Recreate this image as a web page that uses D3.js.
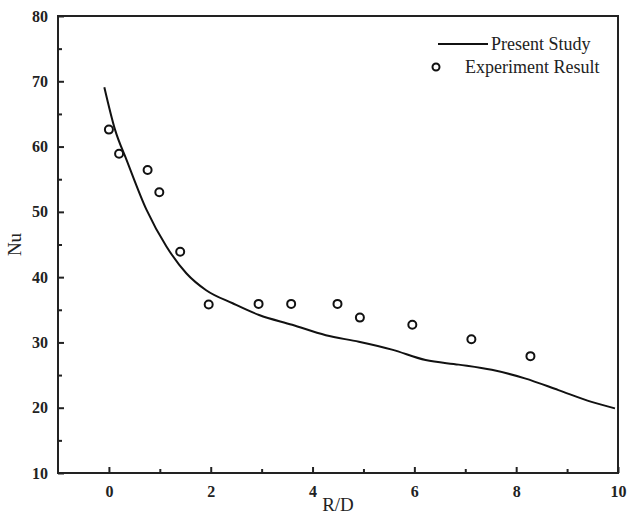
<html>
<head>
<meta charset="UTF-8">
<script src="https://d3js.org/d3.v7.min.js"></script>
<style>
body { margin: 0; background: #fff; }
text { font-family: "Liberation Serif", "DejaVu Serif", serif; fill: #222; }
</style>
</head>
<body>
<svg id="chart" width="627" height="521"></svg>
<script>
// Present Study (curve)
var studyX = [-0.09, 0.12, 0.35, 0.74, 1.13, 1.52, 1.91, 2.43, 2.95, 3.6, 4.26, 4.91, 5.56, 6.22, 6.87, 7.52, 8.17, 8.83, 9.48, 9.94];
var studyY = [69.1, 62.6, 57.9, 50.3, 44.7, 40.6, 38.0, 36.0, 34.2, 32.7, 31.1, 30.1, 28.9, 27.3, 26.6, 25.8, 24.5, 22.7, 20.9, 19.9];
// Experiment Result (circles)
var expX = [0.0, 0.2, 0.76, 0.99, 1.4, 1.96, 2.94, 3.58, 4.49, 4.93, 5.96, 7.12, 8.28];
var expY = [62.6, 58.9, 56.4, 53.0, 43.9, 35.8, 35.9, 35.9, 35.9, 33.8, 32.7, 30.5, 27.9];

var xMajor = [0, 2, 4, 6, 8, 10];
var xMinor = [1, 3, 5, 7, 9];
var yMajor = [10, 20, 30, 40, 50, 60, 70, 80];
var yMinor = [15, 25, 35, 45, 55, 65, 75];

var svg = d3.select("#chart"),
	margin = {top: 16, left: 58, bottom: 48, right: 9},
	width = +svg.attr("width"),
	height = +svg.attr("height");

var x = d3.scaleLinear().domain([-1, 10]).range([margin.left, width - margin.right]);
var y = d3.scaleLinear().domain([10, 80]).range([height - margin.bottom, margin.top]);

// frame
svg.append("rect")
	.attr("x", x(-1)).attr("y", y(80))
	.attr("width", x(10) - x(-1)).attr("height", y(10) - y(80))
	.attr("fill", "none").attr("stroke", "#222").attr("stroke-width", 2);

// x axis, ticks pointing in
svg.append("g").attr("transform", `translate(0,${y(10)})`)
	.call(d3.axisBottom(x).tickValues(xMajor).tickSize(-6).tickPadding(13).tickFormat(d3.format("d")));
svg.append("g").attr("transform", `translate(0,${y(10)})`)
	.call(d3.axisBottom(x).tickValues(xMinor).tickSize(-4).tickFormat(""));

// y axis
svg.append("g").attr("transform", `translate(${x(-1)},0)`)
	.call(d3.axisLeft(y).tickValues(yMajor).tickSize(-6).tickPadding(10).tickFormat(d3.format("d")));
svg.append("g").attr("transform", `translate(${x(-1)},0)`)
	.call(d3.axisLeft(y).tickValues(yMinor).tickSize(-4).tickFormat(""));

svg.selectAll(".domain").remove();
svg.selectAll(".tick line").attr("stroke", "#222").attr("stroke-width", 2);
svg.selectAll(".tick text").style("font-family", "Liberation Serif").style("font-size", "16px")
	.style("font-weight", "bold").attr("fill", "#444");

// axis titles
svg.append("text").attr("x", (x(-1) + x(10)) / 2).attr("y", 511)
	.attr("text-anchor", "middle").style("font-size", "19px").text("R/D");
svg.append("text").attr("transform", `translate(21,${(y(10) + y(80)) / 2}) rotate(-90)`)
	.attr("text-anchor", "middle").style("font-size", "19px").text("Nu");

// curve
var study = studyX.map((d, i) => [d, studyY[i]]);
svg.append("path").datum(study)
	.attr("fill", "none").attr("stroke", "#111").attr("stroke-width", 2)
	.attr("d", d3.line().x(d => x(d[0])).y(d => y(d[1])).curve(d3.curveMonotoneX));

// circles
var exp = expX.map((d, i) => [d, expY[i]]);
svg.selectAll("circle.exp").data(exp).enter().append("circle")
	.attr("class", "exp")
	.attr("cx", d => x(d[0])).attr("cy", d => y(d[1])).attr("r", 4)
	.attr("fill", "none").attr("stroke", "#111").attr("stroke-width", 2);

// legend
var lg = svg.append("g");
lg.append("line").attr("x1", 438).attr("x2", 488).attr("y1", 44).attr("y2", 44)
	.attr("stroke", "#111").attr("stroke-width", 2);
lg.append("text").attr("x", 491).attr("y", 50).style("font-size", "18px").text("Present Study");
lg.append("circle").attr("cx", 436).attr("cy", 67).attr("r", 3.5)
	.attr("fill", "none").attr("stroke", "#111").attr("stroke-width", 2);
lg.append("text").attr("x", 465).attr("y", 73).style("font-size", "18px").text("Experiment Result");
</script>
</body>
</html>
